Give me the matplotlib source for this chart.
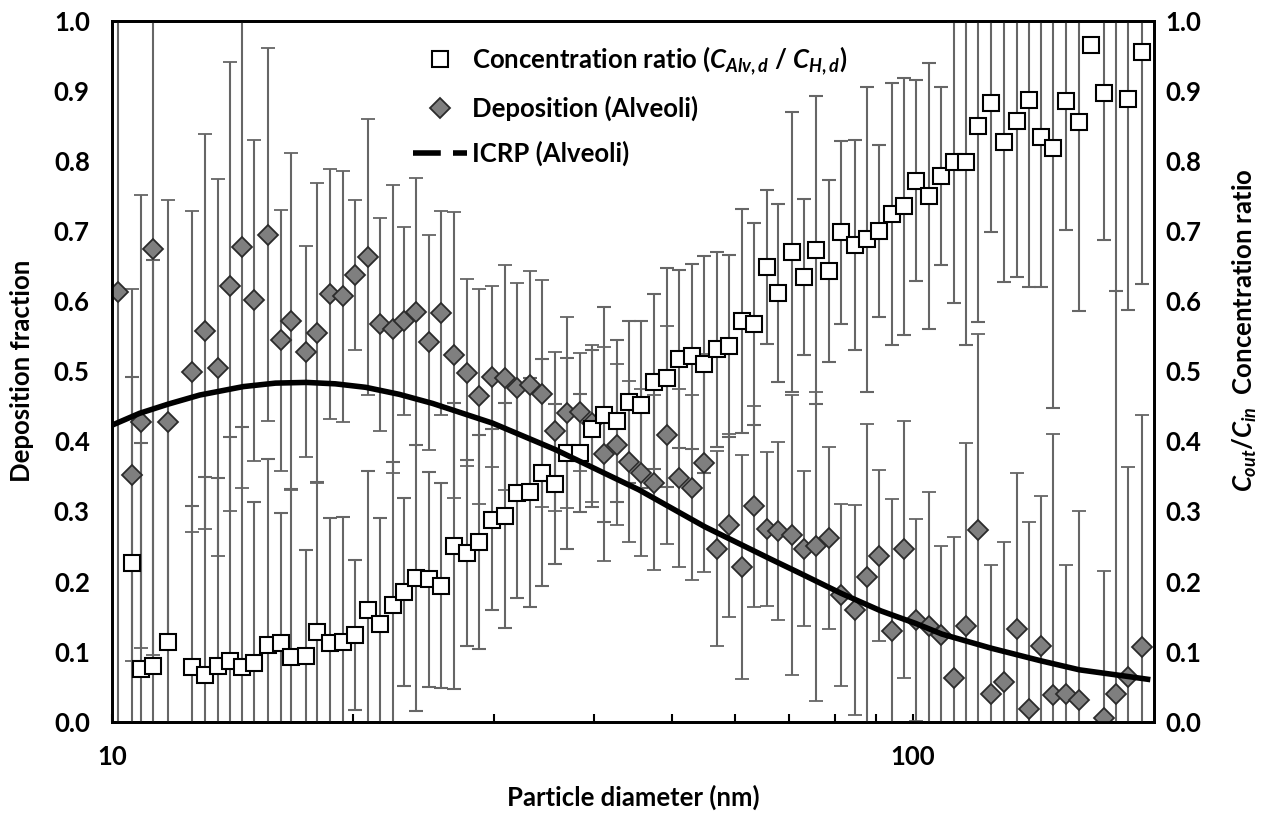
import numpy as np
import matplotlib
matplotlib.use('Agg')
import matplotlib.pyplot as plt
from matplotlib.lines import Line2D
from matplotlib.ticker import FixedLocator, NullFormatter, FixedFormatter

plt.rcParams['font.family'] = ['Lato', 'DejaVu Sans']
plt.rcParams['font.weight'] = 'bold'
plt.rcParams['mathtext.fontset'] = 'custom'
plt.rcParams['mathtext.rm'] = 'Lato:bold'
plt.rcParams['mathtext.bf'] = 'Lato:bold'
plt.rcParams['mathtext.it'] = 'Lato:italic:bold'

# particle diameter (nm)
diameter = [10.18, 10.58, 10.87, 11.26, 11.75, 12.57, 13.06, 13.56, 14.03, 14.55,
            15.03, 15.65, 16.27, 16.71, 17.48, 18.04, 18.72, 19.41, 20.11, 20.85,
            21.61, 22.41, 23.17, 23.99, 24.89, 25.78, 26.74, 27.78, 28.73, 29.85,
            30.93, 32.07, 33.23, 34.45, 35.73, 37.01, 38.35, 39.76, 41.20, 42.71,
            44.26, 45.81, 47.46, 49.30, 51.08, 52.96, 54.88, 56.89, 59.00, 61.14,
            63.35, 65.68, 67.92, 70.55, 73.17, 75.73, 78.54, 81.36, 84.62, 87.65,
            90.72, 94.16, 97.45, 100.95, 104.6, 108.5, 112.5, 116.5, 120.7, 125.2,
            130.1, 134.7, 139.7, 144.6, 149.8, 155.5, 161.3, 166.7, 173.3, 179.5,
            185.8, 193.0]

# concentration ratio C_Alv,d / C_H,d (squares)
conc_ratio = [np.nan, 0.227, 0.075, 0.079, 0.114, 0.078, 0.067, 0.079, 0.086, 0.078,
              0.084, 0.109, 0.112, 0.092, 0.094, 0.128, 0.112, 0.113, 0.124, 0.160,
              0.139, 0.166, 0.185, 0.205, 0.203, 0.194, 0.250, 0.241, 0.256, 0.288,
              0.294, 0.326, 0.327, 0.355, 0.339, 0.383, 0.383, 0.418, 0.438, 0.429,
              0.456, 0.452, 0.485, 0.491, 0.517, 0.521, 0.510, 0.531, 0.536, 0.572,
              0.567, 0.649, 0.611, 0.670, 0.634, 0.673, 0.643, 0.698, 0.680, 0.688,
              0.700, 0.724, 0.735, 0.772, 0.750, 0.778, 0.798, 0.798, 0.850, 0.882,
              0.827, 0.857, 0.887, 0.834, 0.819, 0.886, 0.855, 0.965, 0.897, 1.19,
              0.888, 0.955]

# alveolar deposition fraction (diamonds)
deposition = [0.613, 0.352, 0.428, 0.675, 0.428, 0.499, 0.557, 0.505, 0.621, 0.677,
              0.601, 0.695, 0.544, 0.571, 0.528, 0.554, 0.610, 0.607, 0.637, 0.663,
              0.567, 0.560, 0.572, 0.585, 0.541, 0.583, 0.523, 0.498, 0.464, 0.492,
              0.491, 0.476, 0.480, 0.468, 0.414, 0.441, 0.442, 0.426, 0.382, 0.395,
              0.371, 0.355, 0.341, 0.409, 0.348, 0.334, 0.369, 0.247, 0.280, 0.221,
              0.307, 0.275, 0.272, 0.266, 0.247, 0.250, 0.262, 0.181, 0.159, 0.207,
              0.237, 0.130, 0.246, 0.145, 0.137, 0.124, 0.063, 0.137, 0.273, 0.040,
              0.057, 0.132, 0.018, 0.108, 0.038, 0.040, 0.031, np.nan, 0.005, 0.039,
              0.064, 0.107]

# error (same for both series)
err = [0.70, 0.265, 0.323, 0.58, 0.316, 0.229, 0.282, 0.269, 0.32, 0.343,
       0.229, 0.266, 0.186, 0.24, 0.151, 0.214, 0.178, 0.179, 0.107, 0.197,
       0.152, 0.205, 0.134, 0.19, 0.153, 0.146, 0.204, 0.133, 0.153, 0.129,
       0.16, 0.15, 0.163, 0.162, 0.114, 0.136, 0.084, 0.112, 0.153, 0.115,
       0.115, 0.119, 0.125, 0.156, 0.127, 0.132, 0.155, 0.139, 0.13, 0.16,
       0.144, 0.11, 0.127, 0.2, 0.111, 0.22, 0.13, 0.13, 0.15, 0.217,
       0.122, 0.187, 0.183, 0.144, 0.19, 0.127, 0.2, 0.26, 0.28, 0.184,
       0.2, 0.223, 0.267, 0.214, 0.372, 0.184, 0.269, 0.0, 0.21, 0.576,
       0.3, 0.33]

# ICRP alveolar deposition curve
icrp_d = [10.0, 10.83, 11.75, 12.87, 14.58, 16.0, 17.48, 19.0, 20.74, 22.84,
          25.14, 29.85, 35.8, 45.46, 55.0, 66.7, 71.93, 81.4, 91.24, 100.9,
          108.7, 125.1, 144.3, 161.4, 186.9, 197.9]
icrp_dep = [0.423, 0.440, 0.453, 0.466, 0.478, 0.483, 0.484, 0.482, 0.477, 0.467,
            0.454, 0.426, 0.388, 0.331, 0.278, 0.231, 0.213, 0.183, 0.158, 0.140,
            0.125, 0.105, 0.087, 0.074, 0.064, 0.060]

fig = plt.figure(figsize=(12.69, 8.15), dpi=100)
ax = fig.add_axes([112/1269, 93.3/815, 1042/1269, 701/815])

ebar = dict(ecolor='#666666', elinewidth=1.5, capsize=5, capthick=1.5, linestyle='none')
ax.errorbar(diameter, deposition, yerr=err, fmt='D', ms=10, mfc='#7f7f7f',
            mec='#2b2b2b', mew=1.3, zorder=3, **ebar)
ax.errorbar(diameter, conc_ratio, yerr=err, fmt='s', ms=11.5, mfc='white',
            mec='black', mew=1.5, zorder=3, **ebar)
ax.plot(icrp_d, icrp_dep, color='black', lw=4, zorder=4, solid_capstyle='butt')

fs = 18.5
ax.set_xscale('log')
ax.set_xlim(10, 200)
ax.set_ylim(0, 1)
ax.xaxis.set_major_locator(FixedLocator([10, 100]))
ax.xaxis.set_major_formatter(FixedFormatter(['10', '100']))
ax.xaxis.set_minor_locator(FixedLocator([20, 30, 40, 50, 60, 70, 80, 90]))
ax.xaxis.set_minor_formatter(NullFormatter())
ax.tick_params(axis='x', which='both', direction='in', length=6, width=1.5,
               labelsize=fs, pad=17)
ax.set_yticks(np.arange(0, 1.01, 0.1))
ax.set_yticklabels(['%.1f' % v for v in np.arange(0, 1.01, 0.1)])
ax.tick_params(axis='y', length=0, labelsize=fs, pad=16)
for s in ax.spines.values():
    s.set_linewidth(2)

ax2 = ax.twinx()
ax2.set_ylim(0, 1)
ax2.set_yticks(np.arange(0, 1.01, 0.1))
ax2.set_yticklabels(['%.1f' % v for v in np.arange(0, 1.01, 0.1)])
ax2.tick_params(axis='y', length=0, labelsize=fs, pad=8)
for s in ax2.spines.values():
    s.set_linewidth(2)

fig.text(22/1269, (815-371)/815, 'Deposition fraction', rotation=90,
         ha='center', va='center', fontsize=fs, fontweight='bold')
fig.text(1245/1269, (815-330)/815,
         r'$\mathit{C}_{\mathit{out}}$/$\mathit{C}_{\mathit{in}}$  Concentration ratio',
         rotation=90, ha='center', va='center', fontsize=fs, fontweight='bold')
fig.text(633/1269, (815-797)/815, 'Particle diameter (nm)', ha='center',
         va='center', fontsize=fs, fontweight='bold')

handles = [
    Line2D([], [], marker='s', ms=11.5, mfc='white', mec='black', mew=1.5, ls='none'),
    Line2D([], [], marker='D', ms=10, mfc='#7f7f7f', mec='#2b2b2b', mew=1.3, ls='none'),
    Line2D([], [], color='black', lw=4, dashes=(5, 2.2, 1.6, 0)),
]
labels = [r'Concentration ratio ($\mathit{C}_{\mathit{Alv,d}}$ / $\mathit{C}_{\mathit{H,d}}$)',
          'Deposition (Alveoli)', 'ICRP (Alveoli)']
ax.legend(handles, labels, loc='upper left', bbox_to_anchor=(0.289, 0.967),
          frameon=False, fontsize=fs, handlelength=2.1, handletextpad=0.2,
          labelspacing=0.75, borderpad=0, borderaxespad=0)

fig.savefig('out.png', dpi=100)
